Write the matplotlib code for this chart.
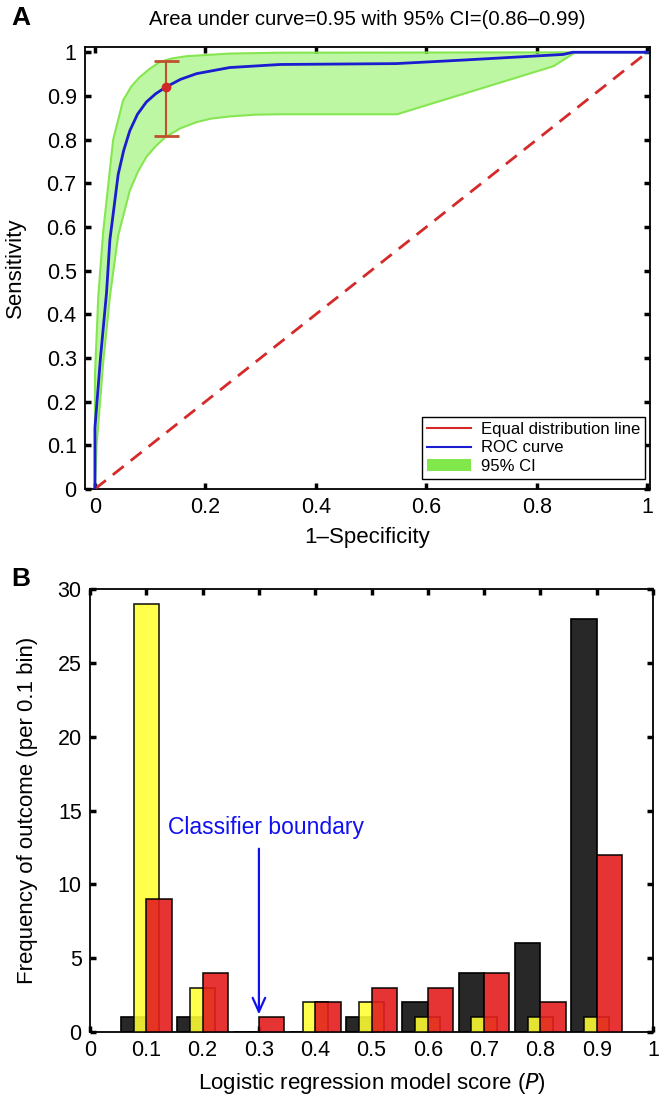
import numpy as np
import matplotlib
matplotlib.use("Agg")
import matplotlib.pyplot as plt
from matplotlib.lines import Line2D
from matplotlib.patches import Patch
from matplotlib.ticker import FormatStrFormatter

plt.rcParams['font.family'] = ['Liberation Sans', 'DejaVu Sans']

#########################
# DONNÉES
#########################
# panneau A : courbe ROC et intervalle de confiance
roc_x = [0, 0, 0.010, 0.021, 0.027, 0.042, 0.052, 0.063, 0.077, 0.093, 0.110,
         0.128, 0.155, 0.184, 0.244, 0.335, 0.545, 0.665, 0.848, 0.865, 1.0]
roc_y = [0, 0.14, 0.30, 0.45, 0.57, 0.72, 0.775, 0.82, 0.858, 0.886, 0.905,
         0.920, 0.938, 0.951, 0.965, 0.972, 0.974, 0.982, 0.995, 1.0, 1.0]
ci_up_x = [0, 0, 0.006, 0.015, 0.033, 0.051, 0.066, 0.081, 0.100, 0.118,
           0.140, 0.166, 0.244, 0.335, 1.0]
ci_up_y = [0, 0.26, 0.44, 0.59, 0.80, 0.89, 0.922, 0.943, 0.963, 0.978,
           0.986, 0.991, 0.997, 0.999, 1.0]
ci_lo_x = [0, 0.003, 0.015, 0.027, 0.042, 0.063, 0.078, 0.093, 0.110, 0.128,
           0.155, 0.184, 0.210, 0.244, 0.290, 0.335, 0.547, 0.830, 0.870, 1.0]
ci_lo_y = [0, 0.10, 0.29, 0.44, 0.58, 0.683, 0.727, 0.760, 0.785, 0.806,
           0.826, 0.840, 0.848, 0.853, 0.857, 0.858, 0.858, 0.968, 1.0, 1.0]
op_x, op_y = 0.128, 0.920          # point de fonctionnement
op_lo, op_hi = 0.808, 0.979        # barre d'erreur
titre_a = "Area under curve=0.95 with 95% CI=(0.86\u20130.99)"

# panneau B : histogrammes
bins = [0.1, 0.2, 0.3, 0.4, 0.5, 0.6, 0.7, 0.8, 0.9]
n_black = [1, 1, 0, 0, 1, 2, 4, 6, 28]
n_yellow = [29, 3, 0, 2, 2, 1, 1, 1, 1]
n_red = [9, 4, 1, 2, 3, 3, 4, 2, 12]
boundary = 0.3

#########################
# FIGURE
#########################
fig = plt.figure(figsize=(6.6, 11.01), dpi=100)
FS_TICK = 15.5
FS_LAB = 16

def style(ax):
    ax.tick_params(direction='in', length=4, width=2.5, top=True, right=True,
                   labelsize=FS_TICK, pad=6)
    for s in ax.spines.values():
        s.set_linewidth(1.3)

# ---------- A ----------
axA = fig.add_axes([0.1288, 0.5559, 0.8562, 0.4014])
poly_x = np.concatenate([ci_up_x, ci_lo_x[::-1]])
poly_y = np.concatenate([ci_up_y, ci_lo_y[::-1]])
axA.fill(poly_x, poly_y, facecolor='#bdf7a4', edgecolor='none', zorder=1)
axA.plot(ci_up_x, ci_up_y, color='#86e651', lw=1.5, zorder=2)
axA.plot(ci_lo_x, ci_lo_y, color='#86e651', lw=1.5, zorder=2)
axA.plot([0, 1], [0, 1], color='#d42a2a', lw=2, dashes=(5, 3.2), zorder=3)
axA.plot(roc_x, roc_y, color='#1c1cd0', lw=2, zorder=4)
axA.errorbar([op_x], [op_y], yerr=[[op_y - op_lo], [op_hi - op_y]],
             color='#c0502e', ecolor='#c0502e', lw=1.5, capsize=9,
             capthick=2, zorder=5)
axA.plot([op_x], [op_y], 'o', color='#d02828', ms=6, zorder=6)
axA.set_xlim(-0.018, 1.005)
axA.set_ylim(0, 1.012)
axA.set_xticks(np.arange(0, 1.01, 0.2))
axA.set_yticks(np.arange(0, 1.01, 0.1))
axA.xaxis.set_major_formatter(FormatStrFormatter('%g'))
axA.yaxis.set_major_formatter(FormatStrFormatter('%g'))
axA.set_title(titre_a, fontsize=14.6, pad=16)
axA.set_xlabel("1\u2013Specificity", fontsize=FS_LAB, labelpad=6)
axA.set_ylabel("Sensitivity", fontsize=FS_LAB, labelpad=15)
style(axA)
handles = [Line2D([], [], color='#d42a2a', lw=1.5),
           Line2D([], [], color='#1c1cd0', lw=1.5),
           Patch(facecolor='#80e84a', edgecolor='none')]
leg = axA.legend(handles, ["Equal distribution line", "ROC curve", "95% CI"],
                 loc='lower right', bbox_to_anchor=(0.991, 0.023),
                 borderaxespad=0, fontsize=12, fancybox=False,
                 edgecolor='black', framealpha=1, handlelength=2.6,
                 handletextpad=0.6, borderpad=0.3, labelspacing=0.2)
leg.get_frame().set_linewidth(1)
fig.text(0.032, 0.984, "A", fontsize=19, fontweight='bold', va='center', ha='center')

# ---------- B ----------
axB = fig.add_axes([0.1364, 0.0627, 0.853, 0.4023])
w = 0.045
x = np.array(bins)
axB.bar(x - w / 2, n_black, width=w, color='#282828', edgecolor='black', lw=1.2, zorder=2)
axB.bar(x, n_yellow, width=w, color='#ffff33', edgecolor='black', lw=1.2,
        alpha=0.88, zorder=3)
axB.bar(x + w / 2, n_red, width=w, color='#e41e1e', edgecolor='black', lw=1.2,
        alpha=0.9, zorder=4)
axB.annotate('', xy=(boundary, 1.0), xytext=(boundary, 12.6),
             arrowprops=dict(arrowstyle='->,head_length=1.0,head_width=0.45',
                             color='#1010f0', lw=1.6), zorder=6)
axB.text(0.313, 13.85, "Classifier boundary", color='#1010f0', fontsize=16.5,
         ha='center', va='center')
axB.set_xlim(0, 1)
axB.set_ylim(0, 30)
axB.set_xticks(np.arange(0, 1.01, 0.1))
axB.set_yticks(np.arange(0, 31, 5))
axB.xaxis.set_major_formatter(FormatStrFormatter('%g'))
axB.set_xlabel("Logistic regression model score ($\\mathit{P}$)", fontsize=FS_LAB, labelpad=7)
axB.set_ylabel("Frequency of outcome (per 0.1 bin)", fontsize=FS_LAB, labelpad=14)
style(axB)
fig.text(0.032, 0.474, "B", fontsize=19, fontweight='bold', va='center', ha='center')

fig.savefig("out.png", dpi=100)
